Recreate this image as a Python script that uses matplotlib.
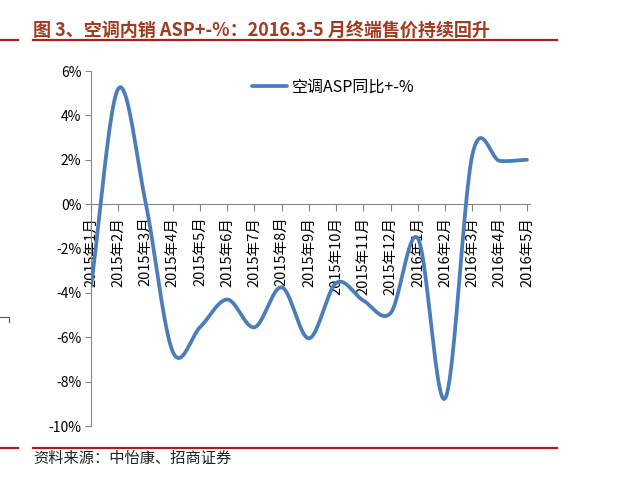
import numpy as np
import matplotlib.pyplot as plt
from matplotlib.lines import Line2D

plt.rcParams['font.family'] = ['Noto Sans CJK SC', 'DejaVu Sans']

# monthly values
months = ['2015年1月', '2015年2月', '2015年3月', '2015年4月', '2015年5月', '2015年6月',
          '2015年7月', '2015年8月', '2015年9月', '2015年10月', '2015年11月', '2015年12月',
          '2016年1月', '2016年2月', '2016年3月', '2016年4月', '2016年5月']
asp_yoy = [-3.7, 5.2, 0.1, -6.65, -5.55, -4.3, -5.55, -3.75, -6.05, -3.55, -4.35,
           -4.9, -1.55, -8.75, 2.25, 1.95, 2.0]
yticks = [-10, -8, -6, -4, -2, 0, 2, 4, 6]

title = '图 3、空调内销 ASP+-%：2016.3-5 月终端售价持续回升'
source = '资料来源：中怡康、招商证券'
series_name = '空调ASP同比+-%'


def smooth(y, steps=24):
    # Catmull-Rom curve through the points, like Excel's smoothed line
    y = np.asarray(y, dtype=float)
    p = np.concatenate([[2 * y[0] - y[1]], y, [2 * y[-1] - y[-2]]])
    xs, ys = [], []
    t = np.linspace(0, 1, steps, endpoint=False)
    for i in range(len(y) - 1):
        p0, p1, p2, p3 = p[i], p[i + 1], p[i + 2], p[i + 3]
        seg = 0.5 * ((2 * p1) + (-p0 + p2) * t + (2 * p0 - 5 * p1 + 4 * p2 - p3) * t ** 2
                     + (-p0 + 3 * p1 - 3 * p2 + p3) * t ** 3)
        xs.append(i + t)
        ys.append(seg)
    xs.append([len(y) - 1])
    ys.append([y[-1]])
    return np.concatenate(xs), np.concatenate(ys)


W, H = 619, 488
fig = plt.figure(figsize=(W / 100, H / 100), dpi=100)
ax = fig.add_axes([91 / W, 1 - 426 / H, 16.1 * 27.25 / W, (426 - 71) / H])

for s in ['top', 'right']:
    ax.spines[s].set_visible(False)
ax.spines['bottom'].set_position(('data', 0))
ax.spines['bottom'].set_color('#868686')
ax.spines['left'].set_color('#868686')

xs, ys = smooth(asp_yoy)
ax.plot(xs, ys, color='#4A7EBB', lw=2.7, solid_capstyle='round', label=series_name, zorder=3)

ax.set_xlim(0, 16.1)
ax.set_ylim(-10, 6)
ax.set_xticks(range(len(months)))
ax.set_xticklabels(months, fontsize=10.5)
ax.set_yticks(yticks)
ax.set_yticklabels([f'{v}%' for v in yticks], fontsize=10)
ax.tick_params(axis='x', length=5, color='#868686', pad=4, labelrotation=90)
ax.tick_params(axis='y', length=4, color='#868686', pad=3)

fig.legend(loc='center', bbox_to_anchor=(333 / W, 1 - 87.5 / H), frameon=False,
           fontsize=11.5, handlelength=2.2, handletextpad=0.3)

fig.text(33 / W, 1 - 30 / H, title, fontsize=13, fontweight='bold', color='#A23A1E',
         ha='left', va='center')
fig.text(33 / W, 1 - 458 / H, source, fontsize=11, color='#222222', ha='left', va='center')

red = '#A5201F'
for yy in (40, 448):
    fig.add_artist(Line2D([0, 18 / W], [1 - yy / H] * 2, color=red, lw=1.6))
    fig.add_artist(Line2D([33 / W, 557 / W], [1 - yy / H] * 2, color=red, lw=1.6))
fig.add_artist(Line2D([0, 9 / W, 9 / W], [1 - 317 / H, 1 - 317 / H, 1 - 322 / H],
                      color='#555555', lw=0.8))

fig.savefig('out.png', dpi=100)
